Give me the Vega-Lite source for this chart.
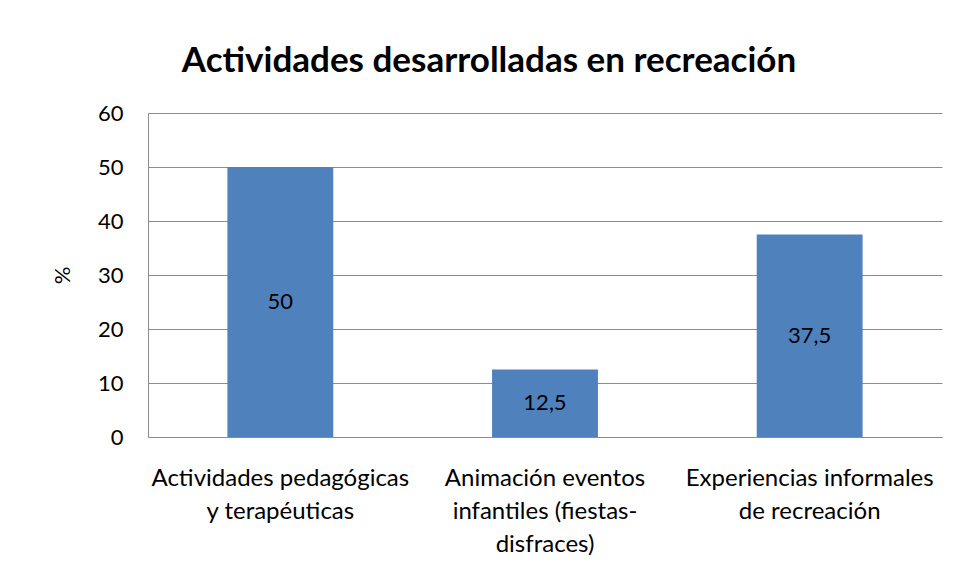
{
  "$schema": "https://vega.github.io/schema/vega-lite/v6.json",
  "autosize": {"type": "none"},
  "width": 794,
  "height": 324,
  "padding": {"left": 148, "top": 113, "right": 15, "bottom": 143},
  "background": "white",
  "title": {
    "text": "Actividades desarrolladas en recreación",
    "font": "Lato",
    "fontSize": 35,
    "fontWeight": "bold",
    "color": "#000000",
    "anchor": "middle",
    "dx": -56,
    "offset": 23
  },
  "data": {
    "values": [
      {"actividad": "Actividades pedagógicas y terapéuticas", "valor": 50},
      {"actividad": "Animación eventos infantiles (fiestas-disfraces)", "valor": 12.5},
      {"actividad": "Experiencias informales de recreación", "valor": 37.5}
    ]
  },
  "encoding": {
    "x": {
      "field": "actividad",
      "type": "nominal",
      "sort": null,
      "scale": {"paddingInner": 0.6, "paddingOuter": 0.3},
      "axis": {
        "title": null,
        "labelAngle": 0,
        "labelFont": "Lato",
        "labelFontSize": 24,
        "labelColor": "#000000",
        "labelPadding": 29,
        "labelLineHeight": 33,
        "labelBaseline": "top",
        "labelLimit": 0,
        "ticks": false,
        "domainColor": "#8c8c8c",
        "labelExpr": "datum.label == 'Actividades pedagógicas y terapéuticas' ? ['Actividades pedagógicas', 'y terapéuticas'] : datum.label == 'Animación eventos infantiles (fiestas-disfraces)' ? ['Animación eventos', 'infantiles (fiestas-', 'disfraces)'] : ['Experiencias informales', 'de recreación']"
      }
    }
  },
  "layer": [
    {
      "mark": {"type": "bar", "color": "#4F81BD"},
      "encoding": {
        "y": {
          "field": "valor",
          "type": "quantitative",
          "scale": {"domain": [0, 60]},
          "axis": {
            "title": "%",
            "titleFont": "Lato",
            "titleFontSize": 22,
            "titleFontWeight": "normal",
            "titleColor": "#000000",
            "titlePadding": 23,
            "values": [0, 10, 20, 30, 40, 50, 60],
            "labelFont": "Lato",
            "labelFontSize": 22,
            "labelColor": "#000000",
            "labelPadding": 25,
            "ticks": false,
            "domainColor": "#8c8c8c",
            "gridColor": "#8c8c8c",
            "gridWidth": 1
          }
        }
      }
    },
    {
      "transform": [{"calculate": "datum.valor / 2", "as": "medio"}],
      "mark": {"type": "text", "font": "Lato", "fontSize": 22, "color": "#000000", "baseline": "middle"},
      "encoding": {
        "y": {"field": "medio", "type": "quantitative"},
        "text": {"field": "valor", "type": "quantitative", "format": ".1~f"}
      }
    }
  ],
  "config": {
    "view": {"stroke": null},
    "locale": {"number": {"decimal": ",", "thousands": ".", "grouping": [3], "currency": ["", " €"]}}
  }
}
